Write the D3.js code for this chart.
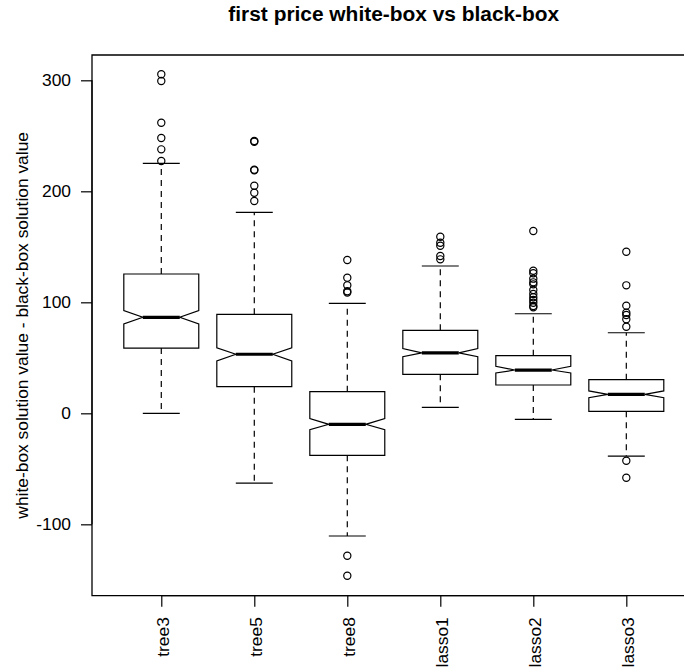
<!DOCTYPE html>
<html><head><meta charset="utf-8">
<script src="https://cdn.jsdelivr.net/npm/d3@7"></script>
<style>body{margin:0;background:#fff;overflow:hidden}svg{display:block}text{font-family:"Liberation Sans",Arial,sans-serif;fill:#000}</style>
</head><body><svg id="c" width="684" height="670"></svg>
<script>
const categories = ["tree3","tree5","tree8","lasso1","lasso2","lasso3"];
const lowerWhisker = [0, -62.8, -110.5, 5.4, -5.4, -38.5];
const q1 = [58.8, 24, -37.8, 35.1, 25.5, 1.8];
const notchLo = [80.5, 47.1, -14.8, 51, 36.3, 14.1];
const median = [86.5, 53.2, -9.9, 54.5, 39, 17];
const notchHi = [92.5, 59.1, -4.8, 58.3, 42.3, 20.2];
const q3 = [125.5, 89.2, 19.5, 74.8, 51.9, 30.3];
const upperWhisker = [225.2, 181, 99.1, 132.7, 89.7, 72.6];
const outliers = [
  [305.4, 299.4, 261.8, 248, 237.8, 227.3],
  [245.3, 244.6, 219.5, 218.9, 205, 198.7, 191.3],
  [138.1, 122.2, 115.3, 110, 108.8, -128.3, -146.3],
  [159.1, 153.7, 151, 141.7, 138.7],
  [164.3, 128.5, 126.2, 121.3, 118, 116.2, 111.1, 107.5, 104.5, 102.1, 99.6, 96.7, 95.5],
  [145.6, 115.3, 97, 90.6, 88.6, 84.7, 78, -42.7, -58]
];
const yTicks = [-100, 0, 100, 200, 300];
const title = "first price white-box vs black-box";
const yLabel = "white-box solution value - black-box solution value";

const svg = d3.select("#c");
const L = 92, R = 695.6, T = 55, B = 595.7;
const x = d3.scalePoint().domain(categories).range([L, R]).padding(0.745);
const y = d3.scaleLinear().domain([-164.3, 322.8]).range([B, T]);
const step = x.step();
const hw = step * 0.403, nw = hw * 0.493, cw = nw;

const g = svg.append("g");
const data = categories.map((c, i) => ({c, lw: lowerWhisker[i], q1: q1[i], nl: notchLo[i], md: median[i], nh: notchHi[i], q3: q3[i], uw: upperWhisker[i], out: outliers[i]}));

const grp = g.selectAll("g.box").data(data).join("g").attr("class", "box");
grp.append("line").attr("x1", d => x(d.c)).attr("x2", d => x(d.c)).attr("y1", d => y(d.q3)).attr("y2", d => y(d.uw))
  .attr("stroke", "#000").attr("stroke-width", 1.2).attr("stroke-dasharray", "6,5");
grp.append("line").attr("x1", d => x(d.c)).attr("x2", d => x(d.c)).attr("y1", d => y(d.q1)).attr("y2", d => y(d.lw))
  .attr("stroke", "#000").attr("stroke-width", 1.2).attr("stroke-dasharray", "6,5");
grp.append("line").attr("x1", d => x(d.c) - cw).attr("x2", d => x(d.c) + cw).attr("y1", d => y(d.uw)).attr("y2", d => y(d.uw))
  .attr("stroke", "#000").attr("stroke-width", 1.2);
grp.append("line").attr("x1", d => x(d.c) - cw).attr("x2", d => x(d.c) + cw).attr("y1", d => y(d.lw)).attr("y2", d => y(d.lw))
  .attr("stroke", "#000").attr("stroke-width", 1.2);
grp.append("path").attr("d", d => {
  const cx = x(d.c), l = cx - hw, r = cx + hw, nl = cx - nw, nr = cx + nw;
  const p = d3.path();
  p.moveTo(l, y(d.q1)); p.lineTo(l, y(d.nl)); p.lineTo(nl, y(d.md)); p.lineTo(l, y(d.nh)); p.lineTo(l, y(d.q3));
  p.lineTo(r, y(d.q3)); p.lineTo(r, y(d.nh)); p.lineTo(nr, y(d.md)); p.lineTo(r, y(d.nl)); p.lineTo(r, y(d.q1)); p.closePath();
  return p.toString();
}).attr("fill", "#fff").attr("stroke", "#000").attr("stroke-width", 1.2);
grp.append("line").attr("x1", d => x(d.c) - nw).attr("x2", d => x(d.c) + nw).attr("y1", d => y(d.md)).attr("y2", d => y(d.md))
  .attr("stroke", "#000").attr("stroke-width", 3.2);
grp.selectAll("circle").data(d => d.out.map(v => ({c: d.c, v}))).join("circle")
  .attr("cx", d => x(d.c)).attr("cy", d => y(d.v)).attr("r", 3.6)
  .attr("fill", "none").attr("stroke", "#000").attr("stroke-width", 1.2);

// plot frame (right side lies outside the canvas)
svg.append("path").attr("d", `M${R},${T}H${L}V${B}H${R}`)
  .attr("fill", "none").attr("stroke", "#000").attr("stroke-width", 1.3);

const ya = svg.append("g").attr("transform", `translate(${L},0)`)
  .call(d3.axisLeft(y).tickValues(yTicks).tickSize(11).tickPadding(10).tickFormat(d => String(d)));
ya.select(".domain").attr("d", `M0,${y(-100)}V${y(300)}`).attr("stroke-width", 1.2);
ya.selectAll(".tick line").attr("stroke-width", 1.2);
ya.selectAll("text").attr("font-size", "17.4px").attr("font-family", '"Liberation Sans",Arial,sans-serif').attr("fill", "#000");

const xa = svg.append("g").attr("transform", `translate(0,${B})`)
  .call(d3.axisBottom(x).tickSize(11).tickSizeOuter(0));
xa.select(".domain").attr("d", `M${x(categories[0])},0H${x(categories[categories.length - 1])}`).attr("stroke-width", 1.2);
xa.selectAll(".tick line").attr("stroke-width", 1.2);
xa.selectAll("text").attr("font-size", "17.4px").attr("font-family", '"Liberation Sans",Arial,sans-serif').attr("fill", "#000")
  .attr("text-anchor", "end").attr("dy", null).attr("y", null)
  .attr("transform", "translate(7,21.5) rotate(-90)");

svg.append("text").attr("x", (L + R) / 2).attr("y", 20.7).attr("text-anchor", "middle")
  .attr("font-size", "20.9px").attr("font-weight", "bold").text(title);
svg.append("text").attr("transform", `translate(28,${(T + B) / 2}) rotate(-90)`).attr("text-anchor", "middle")
  .attr("font-size", "17.4px").text(yLabel);
</script></body></html>
